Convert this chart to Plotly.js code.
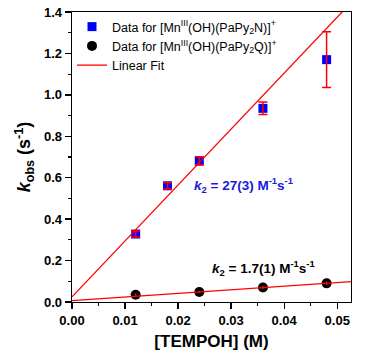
<!DOCTYPE html>
<html><head><meta charset="utf-8">
<script src="https://cdn.plot.ly/plotly-3.0.1.min.js"></script>
<style>body{margin:0;background:#fff}#c{width:376px;height:360px}</style>
</head><body><div id="c"></div>
<script>
var tempoh = [0.012, 0.018, 0.024, 0.036, 0.048];
var kobsN = [0.328, 0.561, 0.681, 0.935, 1.17];
var errN = [0.015, 0.015, 0.02, 0.03, 0.135];
var tempohQ = [0.012, 0.024, 0.036, 0.048];
var kobsQ = [0.035, 0.048, 0.070, 0.090];
var errQ = [0.008, 0.004, 0.008, 0.008];
var fitX = [0, 0.0526];
var fitN = [0.025, 0.025 + 27 * 0.0526];
var fitQ = [0.007, 0.007 + 1.73 * 0.0526];

var F = 'Liberation Sans, Arial, sans-serif';
var traces = [
  {x: tempoh, y: kobsN, mode: 'markers', name: 'Data for [Mn<sup>III</sup>(OH)(PaPy<sub>2</sub>N)]<sup>+</sup>', legendrank: 1,
   marker: {symbol: 'square', color: '#0000ff', size: 9}},
  {x: tempohQ, y: kobsQ, mode: 'markers', name: 'Data for [Mn<sup>III</sup>(OH)(PaPy<sub>2</sub>Q)]<sup>+</sup>', legendrank: 2,
   marker: {symbol: 'circle', color: '#000000', size: 10}},
  {x: tempoh, y: kobsN, mode: 'markers', showlegend: false, hoverinfo: 'skip',
   marker: {color: 'rgba(0,0,0,0)', size: 1},
   error_y: {type: 'data', array: errN, color: '#ff0000', thickness: 1.5, width: 4.5}},
  {x: tempohQ, y: kobsQ, mode: 'markers', showlegend: false, hoverinfo: 'skip',
   marker: {color: 'rgba(0,0,0,0)', size: 1},
   error_y: {type: 'data', array: errQ, color: '#ff0000', thickness: 1.5, width: 0}},
  {x: fitX, y: fitN, mode: 'lines', line: {color: '#ff0000', width: 1.3}, showlegend: false, hoverinfo: 'skip'},
  {x: fitX, y: fitQ, mode: 'lines', line: {color: '#ff0000', width: 1.3}, name: 'Linear Fit', legendrank: 3}
];
var axisBase = {showgrid: false, zeroline: false, showline: true, linecolor: '#000', linewidth: 1.3, mirror: true,
  ticks: 'outside', ticklen: 6, tickwidth: 1.3, tickcolor: '#000',
  tickfont: {family: F, size: 13, color: '#000', weight: 'bold'},
  minor: {ticks: 'outside', ticklen: 3, tickwidth: 1.1, tickcolor: '#000'}};
var layout = {
  width: 376, height: 360,
  margin: {l: 72, r: 25, t: 12, b: 58},
  paper_bgcolor: '#fff', plot_bgcolor: '#fff',
  font: {family: F, color: '#000'},
  xaxis: Object.assign({}, axisBase, {range: [0, 0.0526], tick0: 0, dtick: 0.01, tickformat: '.2f',
    minor: Object.assign({}, axisBase.minor, {dtick: 0.005}),
    title: {text: '[TEMPOH] (M)', font: {family: F, size: 17, weight: 'bold'}, standoff: 8}}),
  yaxis: Object.assign({}, axisBase, {range: [0, 1.4], tick0: 0, dtick: 0.2, tickformat: '.1f',
    minor: Object.assign({}, axisBase.minor, {dtick: 0.1}),
    title: {text: '<i>k</i><sub>obs</sub> (s<sup>-1</sup>)', font: {family: F, size: 18, weight: 'bold'}, standoff: 8}}),
  legend: {x: 0.0, y: 1.0, xanchor: 'left', yanchor: 'top', bgcolor: 'rgba(0,0,0,0)',
    font: {family: F, size: 12.5, color: '#000'}, tracegroupgap: 0, itemwidth: 30},
  annotations: [
    {x: 0.0227, y: 0.565, xref: 'x', yref: 'y', xanchor: 'left', yanchor: 'middle', showarrow: false,
     text: '<i>k</i><sub>2</sub> = 27(3) M<sup>-1</sup>s<sup>-1</sup>', font: {family: F, size: 13.5, color: '#1a1adc', weight: 'bold'}},
    {x: 0.0261, y: 0.164, xref: 'x', yref: 'y', xanchor: 'left', yanchor: 'middle', showarrow: false,
     text: '<i>k</i><sub>2</sub> = 1.7(1) M<sup>-1</sup>s<sup>-1</sup>', font: {family: F, size: 13.5, color: '#000', weight: 'bold'}}
  ]
};
Plotly.newPlot('c', traces, layout, {displayModeBar: false, staticPlot: true});
</script></body></html>
